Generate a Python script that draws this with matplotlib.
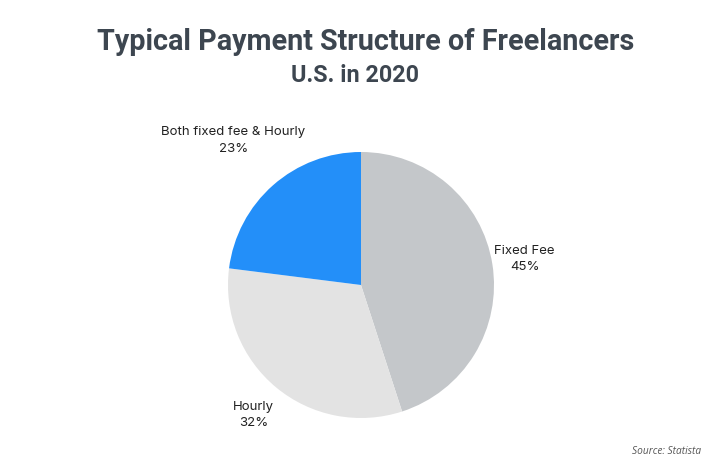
import numpy as np
import matplotlib.pyplot as plt

labels = ['Fixed Fee', 'Hourly', 'Both fixed fee & Hourly']
shares = [45, 32, 23]
colors = ['#c4c7ca', '#e3e3e3', '#238ff9']
label_dist = [1.245, 1.27, 1.45]

fig = plt.figure(figsize=(7.1, 4.65), dpi=100)
ax = fig.add_axes([(361 - 133) / 710, (465 - 285 - 133) / 465, 266 / 710, 266 / 465])

wedges, _ = ax.pie(shares, colors=colors, startangle=90, counterclock=False,
                   wedgeprops=dict(linewidth=0))
ax.set_xlim(-1, 1)
ax.set_ylim(-1, 1)
ax.set_aspect('auto')

# labels around the pie, at each wedge's middle angle
for w, lab, val, d in zip(wedges, labels, shares, label_dist):
    ang = np.deg2rad((w.theta1 + w.theta2) / 2)
    ax.text(d * np.cos(ang), d * np.sin(ang), f'{lab}\n{val}%',
            ha='center', va='center', fontsize=9.5, family='Inter',
            color='#222222', linespacing=1.5)

fig.text(365.5 / 710, 0.91, 'Typical Payment Structure of Freelancers', ha='center', va='center',
         fontsize=20.7, fontweight='bold', family='Roboto', color='#3d4650')
fig.text(355 / 710, 0.838, 'U.S. in 2020', ha='center', va='center',
         fontsize=16.8, fontweight='bold', family='Roboto', color='#3d4650')
fig.text(0.987, 0.03, 'Source: Statista', ha='right', va='center',
         fontsize=7.3, style='italic', family='Open Sans', color='#555555')

fig.savefig('out.png', dpi=100)
